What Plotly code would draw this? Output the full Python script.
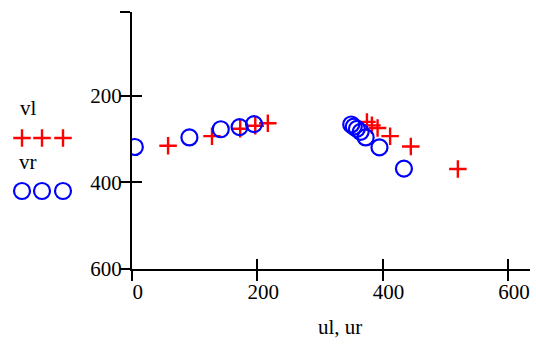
import plotly.graph_objects as go

# left-camera points (ul, vl) and right-camera points (ur, vr)
ul = [58, 128, 173, 197, 217, 375, 383, 392, 412, 445, 520]
vl = [315, 293, 276, 269, 263, 260, 268, 274, 293, 317, 369]
ur = [5, 92, 142, 172, 195, 350, 354, 359, 365, 373, 395, 434]
vr = [318, 296, 277, 272, 265, 266, 271, 276, 283, 296, 319, 368]

x_ticks = [0, 200, 400, 600]
x_tick_text = ["0", "200", "400", "600"]
y_ticks = [6, 200, 400, 600]
y_tick_text = ["", "200", "400", "600"]
x_range = [0, 635]
y_range = [600, 6]

W, H = 536, 352
FONT = "Liberation Serif"
RED = "#ff0000"
BLUE = "#0000ff"

plus_marker = dict(symbol="cross-thin-open", size=12.5, color=RED, line=dict(color=RED, width=2.4))
circle_marker = dict(symbol="circle-open", size=16, color=BLUE, line=dict(color=BLUE, width=2.2))

fig = go.Figure()
fig.add_trace(go.Scatter(x=ul, y=vl, mode="markers", marker=plus_marker, showlegend=False))
fig.add_trace(go.Scatter(x=ur, y=vr, mode="markers", marker=circle_marker, showlegend=False))
# companion axes carrying the inward half of each tick and the tick labels
fig.add_trace(go.Scatter(x=[], y=[], xaxis="x2", yaxis="y2", showlegend=False))

# legend keys: three symbols per series, drawn in a pixel-unit side panel
key_x = [22, 42, 63]
fig.add_trace(go.Scatter(x=key_x, y=[138] * 3, xaxis="x3", yaxis="y3", mode="markers",
                         marker=plus_marker, showlegend=False, cliponaxis=False))
fig.add_trace(go.Scatter(x=key_x, y=[191] * 3, xaxis="x3", yaxis="y3", mode="markers",
                         marker=circle_marker, showlegend=False, cliponaxis=False))

x_dom = [131.7 / W, 530 / W]
y_dom = [1 - 269 / H, 1 - 12 / H]
tickfont = dict(family=FONT, size=21, color="black")

common = dict(showgrid=False, zeroline=False, tickcolor="black", tickwidth=2, ticklen=10,
              tickmode="array", automargin=False)

fig.update_layout(
    template="none",
    width=W, height=H,
    margin=dict(l=0, r=0, t=0, b=0),
    paper_bgcolor="white", plot_bgcolor="white",
    xaxis=dict(domain=x_dom, range=x_range, tickvals=x_ticks, ticks="outside",
               showticklabels=False, showline=True, linecolor="black", linewidth=2,
               anchor="y", **common),
    yaxis=dict(domain=y_dom, range=y_range, tickvals=y_ticks, ticks="outside",
               showticklabels=False, showline=True, linecolor="black", linewidth=2,
               anchor="x", **common),
    xaxis2=dict(domain=x_dom, range=x_range, tickvals=x_ticks, ticktext=x_tick_text,
                ticks="inside", showticklabels=True, tickfont=tickfont, ticklabelshift=6,
                ticklabelstandoff=8, side="bottom",
                showline=False, overlaying="x", anchor="y2", **common),
    yaxis2=dict(domain=y_dom, range=y_range, tickvals=y_ticks, ticktext=y_tick_text,
                ticks="inside", showticklabels=True, tickfont=tickfont,
                ticklabelstandoff=9, side="left",
                showline=False, overlaying="y", anchor="x2", **common),
    xaxis3=dict(domain=[0, 110 / W], range=[0, 110], visible=False, anchor="y3"),
    yaxis3=dict(domain=[0, 1], range=[H, 0], visible=False, anchor="x3"),
    annotations=[
        dict(text="ul, ur", x=340 / W, y=1 - 327 / H, xref="paper", yref="paper",
             showarrow=False, xanchor="center", yanchor="middle",
             font=dict(family=FONT, size=21, color="black")),
        dict(text="vl", x=28 / W, y=1 - 108 / H, xref="paper", yref="paper",
             showarrow=False, xanchor="center", yanchor="middle",
             font=dict(family=FONT, size=21, color="black")),
        dict(text="vr", x=28 / W, y=1 - 162 / H, xref="paper", yref="paper",
             showarrow=False, xanchor="center", yanchor="middle",
             font=dict(family=FONT, size=21, color="black")),
    ],
)

fig.write_html("out.html")
